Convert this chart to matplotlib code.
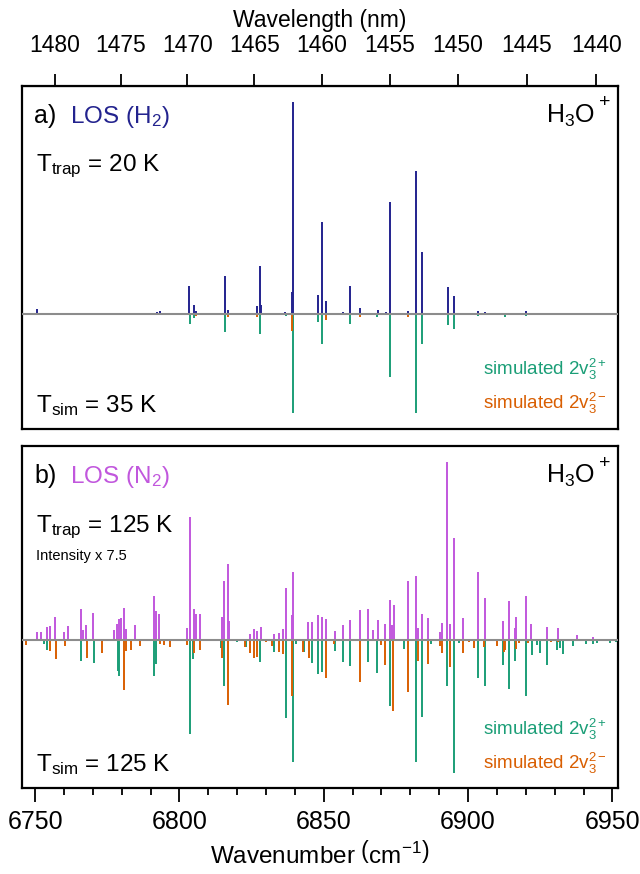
import matplotlib
matplotlib.use("Agg")
import matplotlib.pyplot as plt
import numpy as np

plt.rcParams['font.family'] = ['Liberation Sans', 'DejaVu Sans']
plt.rcParams['mathtext.fontset'] = 'custom'
plt.rcParams['mathtext.rm'] = 'Liberation Sans'
plt.rcParams['mathtext.it'] = 'Liberation Sans:italic'
plt.rcParams['mathtext.default'] = 'regular'

# panel a) LOS in H2, T_trap = 20 K  (wavenumber cm-1, intensity)
h2_wn = [6750.7, 6761.7, 6792.2, 6793.3, 6803.4, 6804.9, 6805.6, 6815.7, 6817.0,
         6826.8, 6827.9, 6828.3, 6836.7, 6838.9, 6839.5, 6845.8, 6848.0, 6849.5,
         6850.9, 6856.8, 6859.0, 6862.5, 6868.8, 6871.5, 6872.8, 6879.2, 6881.8,
         6883.9, 6893.0, 6895.1, 6903.4, 6905.9, 6919.9]
h2_int = [0.022, 0.005, 0.010, 0.012, 0.134, 0.042, 0.016, 0.180, 0.020,
          0.040, 0.226, 0.042, 0.010, 0.104, 1.000, 0.006, 0.090, 0.436,
          0.063, 0.010, 0.132, 0.027, 0.020, 0.010, 0.530, 0.016, 0.676,
          0.290, 0.126, 0.085, 0.016, 0.008, 0.016]

# simulated 35 K, 2v3(2+) and 2v3(2-)
a_plus_wn = [6803.5, 6804.9, 6815.7, 6828.0, 6836.9, 6839.5, 6848.0, 6849.5, 6859.0,
             6868.3, 6872.9, 6881.9, 6884.0, 6893.0, 6895.1, 6903.4, 6912.7, 6919.9,
             6923.8]
a_plus_int = [0.049, 0.020, 0.083, 0.094, 0.010, 0.468, 0.038, 0.142, 0.046,
              0.016, 0.296, 0.468, 0.142, 0.052, 0.071, 0.008, 0.013, 0.010,
              0.006]
a_minus_wn = [6780.8, 6793.3, 6805.7, 6817.0, 6826.8, 6839.0, 6850.9, 6862.5, 6871.5,
              6874.1, 6879.2]
a_minus_int = [0.004, 0.007, 0.010, 0.013, 0.013, 0.079, 0.028, 0.016, 0.006,
               0.006, 0.013]

# panel b) LOS in N2, T_trap = 125 K (intensity x 7.5)
n2_wn = [6750.6, 6752.1, 6754.0, 6755.2, 6757.0, 6760.0, 6761.5, 6765.8, 6766.6,
         6767.5, 6770.2, 6777.5, 6778.3, 6779.2, 6779.9, 6780.8, 6781.5, 6784.7,
         6791.2, 6791.9, 6793.0, 6802.6, 6803.5, 6804.9, 6805.6, 6807.1, 6814.8,
         6815.6, 6816.9, 6817.2, 6824.3, 6825.8, 6827.0, 6828.1, 6832.7, 6834.4,
         6835.9, 6836.8, 6838.9, 6839.5, 6844.7, 6845.9, 6848.0, 6849.5, 6850.9,
         6854.0, 6856.8, 6859.0, 6862.5, 6865.5, 6867.0, 6868.8, 6871.2, 6872.8,
         6873.5, 6874.2, 6879.2, 6881.8, 6882.5, 6884.0, 6886.0, 6890.1, 6891.1,
         6892.8, 6893.7, 6895.2, 6898.4, 6903.4, 6905.8, 6912.2, 6914.1, 6916.3,
         6916.7, 6919.9, 6921.9, 6927.3, 6931.3, 6937.8, 6943.4]
n2_int = [0.043, 0.043, 0.075, 0.080, 0.127, 0.047, 0.077, 0.176, 0.058,
          0.084, 0.151, 0.056, 0.088, 0.118, 0.125, 0.178, 0.062, 0.084,
          0.245, 0.163, 0.146, 0.065, 0.692, 0.172, 0.144, 0.144, 0.131,
          0.331, 0.424, 0.107, 0.032, 0.060, 0.050, 0.073, 0.032, 0.037,
          0.060, 0.290, 0.138, 0.379, 0.099, 0.103, 0.140, 0.131, 0.118,
          0.050, 0.082, 0.110, 0.166, 0.174, 0.058, 0.110, 0.092, 0.222,
          0.082, 0.194, 0.331, 0.359, 0.069, 0.144, 0.121, 0.047, 0.093,
          1.000, 0.090, 0.570, 0.121, 0.379, 0.237, 0.107, 0.221, 0.069,
          0.127, 0.245, 0.090, 0.071, 0.067, 0.028, 0.019]

# simulated 125 K
b_plus_wn = [6753.1, 6754.0, 6765.9, 6770.3, 6778.6, 6779.1, 6791.1, 6792.0, 6803.5,
             6804.7, 6814.5, 6815.5, 6819.8, 6822.9, 6827.8, 6832.8, 6837.0, 6839.5,
             6840.3, 6843.1, 6846.0, 6848.0, 6849.5, 6854.0, 6856.8, 6859.0, 6865.5,
             6868.3, 6872.8, 6877.7, 6881.8, 6884.0, 6887.0, 6892.8, 6895.2, 6896.8,
             6903.4, 6905.9, 6912.2, 6914.1, 6916.3, 6919.9, 6922.2, 6923.9, 6925.0,
             6927.3, 6930.9, 6932.0, 6932.8, 6936.5, 6940.9, 6943.4, 6944.7, 6949.2,
             6951.3]
b_plus_int = [0.024, 0.058, 0.118, 0.127, 0.174, 0.200, 0.200, 0.135, 0.529,
              0.107, 0.043, 0.258, 0.013, 0.037, 0.121, 0.069, 0.439, 0.682,
              0.024, 0.065, 0.131, 0.191, 0.181, 0.062, 0.121, 0.146, 0.125,
              0.187, 0.370, 0.052, 0.682, 0.434, 0.024, 0.256, 0.748, 0.019,
              0.215, 0.258, 0.140, 0.277, 0.116, 0.312, 0.084, 0.028, 0.071,
              0.140, 0.058, 0.043, 0.080, 0.032, 0.024, 0.024, 0.019, 0.015,
              0.013]
b_minus_wn = [6746.8, 6755.2, 6757.1, 6760.2, 6767.9, 6773.3, 6776.3, 6780.8, 6781.5,
              6783.2, 6786.3, 6793.2, 6794.8, 6796.7, 6802.5, 6804.9, 6807.1, 6814.7,
              6817.0, 6822.7, 6824.4, 6825.9, 6827.0, 6829.9, 6832.1, 6834.4, 6835.9,
              6838.9, 6842.7, 6844.9, 6850.9, 6853.5, 6862.5, 6869.7, 6871.2, 6874.1,
              6879.2, 6882.5, 6886.0, 6890.1, 6891.1, 6893.7, 6898.4, 6900.2, 6902.0,
              6905.4, 6910.1, 6912.4, 6912.9, 6916.7, 6917.6, 6920.9, 6928.8, 6931.3]
b_minus_int = [0.028, 0.062, 0.107, 0.036, 0.103, 0.075, 0.006, 0.280, 0.060,
               0.056, 0.034, 0.021, 0.028, 0.037, 0.028, 0.075, 0.056, 0.103,
               0.364, 0.037, 0.071, 0.103, 0.097, 0.013, 0.034, 0.065, 0.077,
               0.314, 0.065, 0.099, 0.211, 0.024, 0.234, 0.028, 0.140, 0.396,
               0.293, 0.118, 0.136, 0.032, 0.075, 0.150, 0.075, 0.013, 0.047,
               0.041, 0.032, 0.069, 0.056, 0.052, 0.019, 0.015, 0.009, 0.009]

NAVY = '#23238e'
PURPLE = '#c157dd'
GREEN = '#1b9e77'
ORANGE = '#d95f02'

fig = plt.figure(figsize=(6.4, 8.74), dpi=100)
ax1 = fig.add_axes([0.0336, 0.5092, 0.9328, 0.3924])
ax2 = fig.add_axes([0.0336, 0.0984, 0.9328, 0.3913])


def draw_panel(ax, exp_wn, exp_int, exp_color, p_wn, p_int, m_wn, m_int):
    ax.vlines(p_wn, 0, -np.array(p_int), color=GREEN, lw=1.4, zorder=2)
    ax.vlines(m_wn, 0, -np.array(m_int), color=ORANGE, lw=1.4, zorder=2)
    ax.vlines(exp_wn, 0, exp_int, color=exp_color, lw=1.4, zorder=2)
    ax.axhline(0, color='#8c8c8c', lw=1.5, zorder=3)
    ax.set_xlim(6745.3, 6952.1)
    ax.set_yticks([])
    for s in ax.spines.values():
        s.set_linewidth(1.6)


draw_panel(ax1, h2_wn, h2_int, NAVY, a_plus_wn, a_plus_int, a_minus_wn, a_minus_int)
draw_panel(ax2, n2_wn, n2_int, PURPLE, b_plus_wn, b_plus_int, b_minus_wn, b_minus_int)
ax1.set_ylim(-0.542, 1.075)
ax2.set_ylim(-0.830, 1.088)

ax1.tick_params(axis='x', bottom=False, labelbottom=False)
secax = ax1.secondary_xaxis('top', functions=(lambda x: 1e7 / x, lambda x: 1e7 / x))
secax.set_xticks(np.arange(1440, 1481, 5))
secax.tick_params(axis='x', direction='out', length=9, width=1.3, labelsize=16.5, pad=12)
secax.set_xlabel('Wavelength (nm)', fontsize=16.5, labelpad=5)

ax2.set_xticks(np.arange(6750, 6951, 50))
ax2.set_xticks(np.arange(6750, 6951, 10), minor=True)
ax2.tick_params(axis='x', which='major', direction='out', length=10, width=1.3,
                labelsize=18, pad=6)
ax2.tick_params(axis='x', which='minor', direction='out', length=5, width=1.3)
ax2.set_xlabel(r'Wavenumber $\left(\mathrm{cm}^{-1}\right)$', fontsize=17.5, labelpad=5)

big = 17.5
for ax, lab, mol, col, ttrap, tsim, ys in [
        (ax1, 'a)', r'LOS (H$_2$)', NAVY, r'T$_{trap}$ = 20 K', r'T$_{sim}$ = 35 K',
         (0.893, 0.753, 0.050, 0.157, 0.058)),
        (ax2, 'b)', r'LOS (N$_2$)', PURPLE, r'T$_{trap}$ = 125 K', r'T$_{sim}$ = 125 K',
         (0.891, 0.749, 0.048, 0.155, 0.055))]:
    ax.text(0.021, ys[0], lab, transform=ax.transAxes, fontsize=18, va='baseline')
    ax.text(0.081, ys[0], mol, transform=ax.transAxes, fontsize=big, color=col, va='baseline')
    ax.text(0.879, ys[0], r'H$_3$O', transform=ax.transAxes, fontsize=18, va='baseline')
    ax.text(0.967, ys[0] + 0.045, '+', transform=ax.transAxes, fontsize=14, va='baseline')
    ax.text(0.024, ys[1], ttrap, transform=ax.transAxes, fontsize=big, va='baseline')
    ax.text(0.024, ys[2], tsim, transform=ax.transAxes, fontsize=big, va='baseline')
    ax.text(0.981, ys[3], r'simulated 2v$_3^{2+}$', transform=ax.transAxes,
            fontsize=13.5, color=GREEN, ha='right', va='baseline')
    ax.text(0.981, ys[4], r'simulated 2v$_3^{2-}$', transform=ax.transAxes,
            fontsize=13.5, color=ORANGE, ha='right', va='baseline')

ax2.text(0.025, 0.667, 'Intensity x 7.5', transform=ax2.transAxes, fontsize=10.5, va='baseline')

fig.savefig('out.png', dpi=100)
